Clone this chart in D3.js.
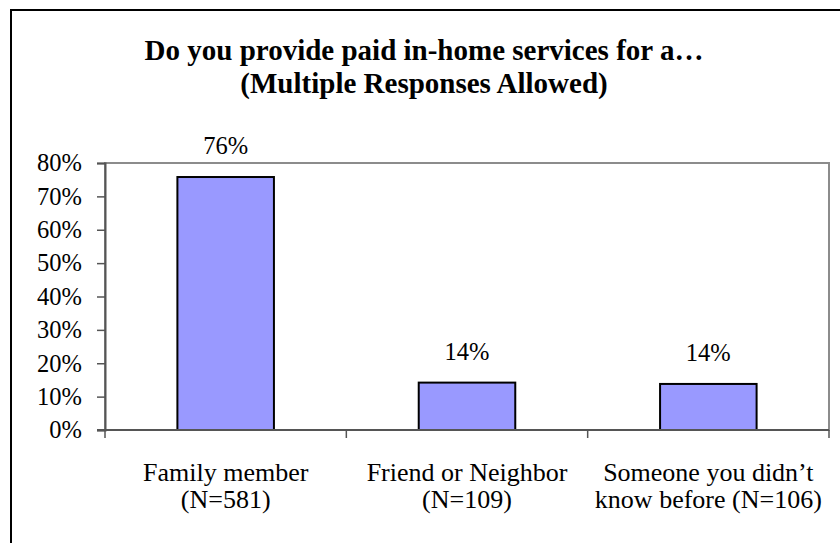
<!DOCTYPE html>
<html>
<head>
<meta charset="utf-8">
<script src="https://cdn.jsdelivr.net/npm/d3@7"></script>
<style>
  html, body { margin: 0; padding: 0; background: #fff; }
  svg { display: block; font-family: "Liberation Serif", "Times New Roman", serif; }
</style>
</head>
<body>
<svg id="chart" width="840" height="543"></svg>
<script>
// Survey responses: who the respondent provides paid in-home services for
const titleLines = ["Do you provide paid in-home services for a\u2026", "(Multiple Responses Allowed)"];
const categories = [
  ["Family member", "(N=581)"],
  ["Friend or Neighbor", "(N=109)"],
  ["Someone you didn\u2019t", "know before (N=106)"]
];
const percents = [75.8, 14.2, 13.8];
const yTicks = [0, 10, 20, 30, 40, 50, 60, 70, 80];

const svg = d3.select("#chart");
const W = 840, H = 543;
const plot = { left: 105, right: 829, top: 163, bottom: 430 };

// Outer chart frame (runs past the right and bottom edges)
svg.append("rect")
  .attr("x", 11).attr("y", 10)
  .attr("width", W).attr("height", H)
  .attr("fill", "none").attr("stroke", "#000").attr("stroke-width", 2);

// Title
const title = svg.append("text")
  .attr("text-anchor", "middle")
  .attr("font-weight", "bold")
  .attr("font-size", 29);
titleLines.forEach((t, i) => {
  title.append("tspan").attr("x", 424).attr("y", 60 + i * 33).text(t);
});

const keys = categories.map((c, i) => i);
const x = d3.scaleBand().domain(keys).range([plot.left, plot.right]).padding(0);
const y = d3.scaleLinear().domain([0, 80]).range([plot.bottom, plot.top]);

// Plot area border
svg.append("rect")
  .attr("x", plot.left).attr("y", plot.top)
  .attr("width", plot.right - plot.left).attr("height", plot.bottom - plot.top)
  .attr("fill", "#fff").attr("stroke", "#8c8c8c").attr("stroke-width", 2);

// Bars
const barW = x.bandwidth() * 0.4;
svg.append("g").selectAll("rect")
  .data(percents)
  .join("rect")
  .attr("x", (d, i) => x(i) + (x.bandwidth() - barW) / 2)
  .attr("y", d => y(d))
  .attr("width", barW)
  .attr("height", d => y(0) - y(d))
  .attr("fill", "#9999ff")
  .attr("stroke", "#000")
  .attr("stroke-width", 2);

// Value labels
svg.append("g").selectAll("text")
  .data(percents)
  .join("text")
  .attr("x", (d, i) => x(i) + x.bandwidth() / 2)
  .attr("y", d => y(d) - 23)
  .attr("text-anchor", "middle")
  .attr("font-size", 24.5)
  .attr("fill", "#000")
  .text(d => d3.format(".0f")(d) + "%");

// Y axis
const yAxis = svg.append("g")
  .attr("transform", `translate(${plot.left},0)`)
  .call(d3.axisLeft(y).tickValues(yTicks).tickSize(8).tickPadding(15)
    .tickFormat(d => d + "%"));
yAxis.select(".domain").attr("stroke", "#555").attr("stroke-width", 2);
yAxis.selectAll(".tick line").attr("stroke", "#555").attr("stroke-width", 1.5);
yAxis.selectAll(".tick text")
  .attr("font-family", "Liberation Serif, Times New Roman, serif")
  .attr("font-size", 24.5).attr("fill", "#000");

// X axis: tick marks at category boundaries
const xAxis = svg.append("g").attr("transform", `translate(0,${plot.bottom})`);
xAxis.append("line")
  .attr("x1", plot.left - 8).attr("x2", plot.right)
  .attr("stroke", "#555").attr("stroke-width", 2);
const bounds = keys.map(k => x(k)).concat([x(keys[keys.length - 1]) + x.bandwidth()]);
xAxis.selectAll("line.tk")
  .data(bounds)
  .join("line")
  .attr("class", "tk")
  .attr("x1", d => d).attr("x2", d => d)
  .attr("y1", 0).attr("y2", 8)
  .attr("stroke", "#555").attr("stroke-width", 1.5);

// Category labels (two lines each)
const catG = svg.append("g");
categories.forEach((lines, i) => {
  const t = catG.append("text")
    .attr("text-anchor", "middle")
    .attr("font-size", 26)
    .attr("fill", "#000");
  lines.forEach((l, j) => {
    t.append("tspan")
      .attr("x", x(i) + x.bandwidth() / 2)
      .attr("y", 481 + j * 27)
      .text(l);
  });
});
</script>
</body>
</html>
